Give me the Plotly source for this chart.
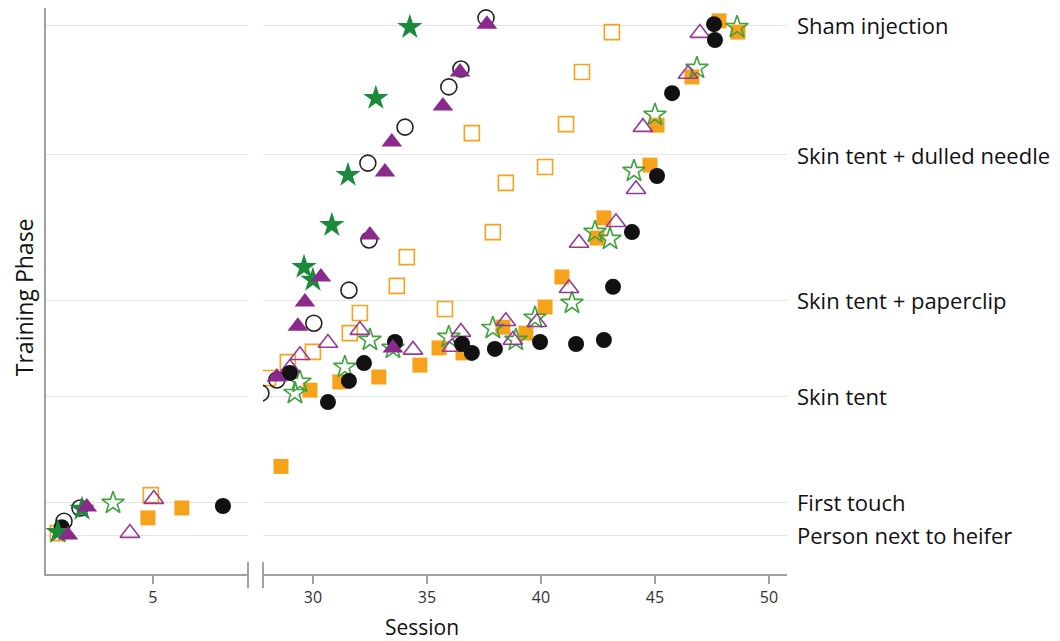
import plotly.graph_objects as go

# Phase levels (y positions) and names
phase_names = ["Person next to heifer", "First touch", "Skin tent",
               "Skin tent + paperclip", "Skin tent + dulled needle", "Sham injection"]
phase_values = [1.0, 2.0, 5.2, 8.12, 12.52, 16.45]

left_ticks = [5]
right_ticks = [30, 35, 40, 45, 50]

# Series: (session, phase progress)
blk_fill_x = [1.0, 8.07, 28.99, 30.66, 31.58, 32.24, 33.6, 36.54, 36.97, 37.98, 39.96, 41.54, 42.76, 43.16, 43.99, 45.09, 45.75, 47.63, 47.59]
blk_fill_y = [1.24, 1.88, 5.91, 5.03, 5.67, 6.21, 6.85, 6.79, 6.52, 6.64, 6.85, 6.79, 6.91, 8.52, 10.18, 11.88, 14.39, 16.0, 16.48]

blk_open_x = [1.1, 1.8, 27.72, 28.42, 30.04, 31.58, 32.41, 32.46, 34.04, 35.96, 36.49, 37.59]
blk_open_y = [1.42, 1.82, 5.3, 5.7, 7.42, 8.42, 12.27, 9.94, 13.36, 14.58, 15.12, 16.67]

org_fill_x = [4.78, 6.27, 28.6, 29.87, 31.18, 32.89, 34.69, 35.53, 36.58, 38.33, 39.34, 40.18, 40.92, 42.46, 42.76, 44.78, 45.09, 46.62, 47.81, 48.64]
org_fill_y = [1.52, 1.82, 3.08, 5.39, 5.64, 5.79, 6.15, 6.67, 6.52, 7.3, 7.12, 7.91, 8.82, 10.0, 10.61, 12.21, 13.42, 14.88, 16.58, 16.24]

org_open_x = [0.83, 4.91, 28.03, 28.9, 30.0, 31.62, 32.06, 33.68, 34.12, 35.79, 36.97, 37.89, 38.46, 40.18, 41.1, 41.8, 43.11]
org_open_y = [1.06, 2.21, 5.76, 6.24, 6.55, 7.12, 7.73, 8.55, 9.42, 7.85, 13.18, 10.18, 11.67, 12.15, 13.45, 15.03, 16.24]

pur_fill_x = [1.27, 2.1, 28.42, 29.34, 29.65, 30.35, 32.5, 33.16, 33.46, 33.51, 35.7, 36.45, 37.63]
pur_fill_y = [1.0, 1.85, 5.79, 7.33, 8.06, 8.82, 10.09, 12.0, 12.91, 6.67, 14.0, 15.03, 16.48]

pur_open_x = [3.99, 5.04, 28.99, 29.43, 30.66, 32.06, 34.39, 36.1, 36.49, 38.46, 38.77, 39.82, 41.23, 41.67, 43.29, 44.17, 44.47, 46.45, 46.97]
pur_open_y = [1.06, 2.09, 6.06, 6.45, 6.82, 7.21, 6.61, 6.7, 7.15, 7.48, 6.91, 7.45, 8.48, 9.85, 10.48, 11.48, 13.36, 14.97, 16.21]

grn_fill_x = [0.83, 1.89, 29.61, 30.0, 30.83, 31.54, 32.76, 34.25]
grn_fill_y = [1.09, 1.79, 9.12, 8.73, 10.39, 11.91, 14.24, 16.39]

grn_open_x = [3.25, 29.21, 29.43, 31.4, 32.5, 33.51, 35.96, 37.89, 38.9, 39.74, 41.36, 42.37, 43.03, 44.08, 45.0, 46.84, 48.6]
grn_open_y = [1.97, 5.3, 5.64, 6.09, 6.91, 6.67, 7.0, 7.27, 6.91, 7.58, 8.03, 10.18, 9.97, 12.03, 13.73, 15.15, 16.39]

BREAK = 20  # sessions below this go to the left panel

series = [
    (org_open_x, org_open_y, dict(symbol="square-open", size=15, color="#F7A21B", line=dict(width=1.6, color="#F7A21B"))),
    (org_fill_x, org_fill_y, dict(symbol="square", size=15, color="#F7A21B", line=dict(width=0))),
    (grn_open_x, grn_open_y, dict(symbol="star-open", size=17, color="#3FA23F", line=dict(width=1.6, color="#3FA23F"))),
    (pur_open_x, pur_open_y, dict(symbol="triangle-up-open", size=17, color="#963A96", line=dict(width=1.6, color="#963A96"))),
    (blk_open_x, blk_open_y, dict(symbol="circle-open", size=16, color="#222222", line=dict(width=1.6, color="#222222"))),
    (blk_fill_x, blk_fill_y, dict(symbol="circle", size=16, color="#111111", line=dict(width=0))),
    (grn_fill_x, grn_fill_y, dict(symbol="star", size=19, color="#1B8A3A", line=dict(width=0))),
    (pur_fill_x, pur_fill_y, dict(symbol="triangle-up", size=18, color="#8B2A8D", line=dict(width=0))),
]

fig = go.Figure()
for xs, ys, mk in series:
    lx = [x for x in xs if x < BREAK]
    ly = [y for x, y in zip(xs, ys) if x < BREAK]
    rx = [x for x in xs if x >= BREAK]
    ry = [y for x, y in zip(xs, ys) if x >= BREAK]
    fig.add_trace(go.Scatter(x=lx, y=ly, xaxis="x", yaxis="y", mode="markers", marker=mk, showlegend=False))
    fig.add_trace(go.Scatter(x=rx, y=ry, xaxis="x2", yaxis="y", mode="markers", marker=mk, showlegend=False))

axis_col = "#A0A0A0"
tickfont = dict(family="Open Sans", size=16, color="#333333")
common_x = dict(showline=True, linecolor=axis_col, linewidth=2, ticks="outside", ticklen=8,
                tickcolor=axis_col, tickwidth=1.5, showgrid=False, zeroline=False, tickfont=tickfont,
                anchor="y")

fig.update_layout(
    width=1052, height=633,
    margin=dict(l=38, r=273, t=0, b=67),
    plot_bgcolor="white", paper_bgcolor="white",
    xaxis=dict(domain=[0, 0.2726], range=[0.31, 9.17], tickvals=left_ticks, **common_x),
    xaxis2=dict(domain=[0.2928, 1], range=[27.81, 50.79], tickvals=right_ticks, **common_x),
    yaxis=dict(domain=[0, 1], range=[-0.18, 16.97], tickvals=phase_values, showticklabels=False,
               ticks="", showgrid=True, gridcolor="#E4E4E4", gridwidth=1, showline=True,
               linecolor=axis_col, linewidth=2, zeroline=False, anchor="x"),
)

annotations = []
for name, val in zip(phase_names, phase_values):
    annotations.append(dict(text=name, x=1.0108, xref="paper", y=val, yref="y", xanchor="left",
                            yanchor="middle", showarrow=False,
                            font=dict(family="Open Sans", size=22, color="#111111")))
annotations.append(dict(text="Session", x=0.507, y=-0.093, xref="paper", yref="paper",
                        xanchor="center", yanchor="middle", showarrow=False,
                        font=dict(family="Open Sans", size=21, color="#111111")))
annotations.append(dict(text="Training Phase", x=-0.0297, y=0.489, xref="paper", yref="paper",
                        xanchor="center", yanchor="middle", textangle=-90, showarrow=False,
                        font=dict(family="Open Sans", size=23, color="#111111")))
fig.update_layout(annotations=annotations)

# axis-break marks
for xp in [0.2726, 0.2928]:
    fig.add_shape(type="line", xref="paper", yref="paper", x0=xp, x1=xp, y0=0.021, y1=-0.025,
                  line=dict(color=axis_col, width=2))

fig.write_html("out.html")
